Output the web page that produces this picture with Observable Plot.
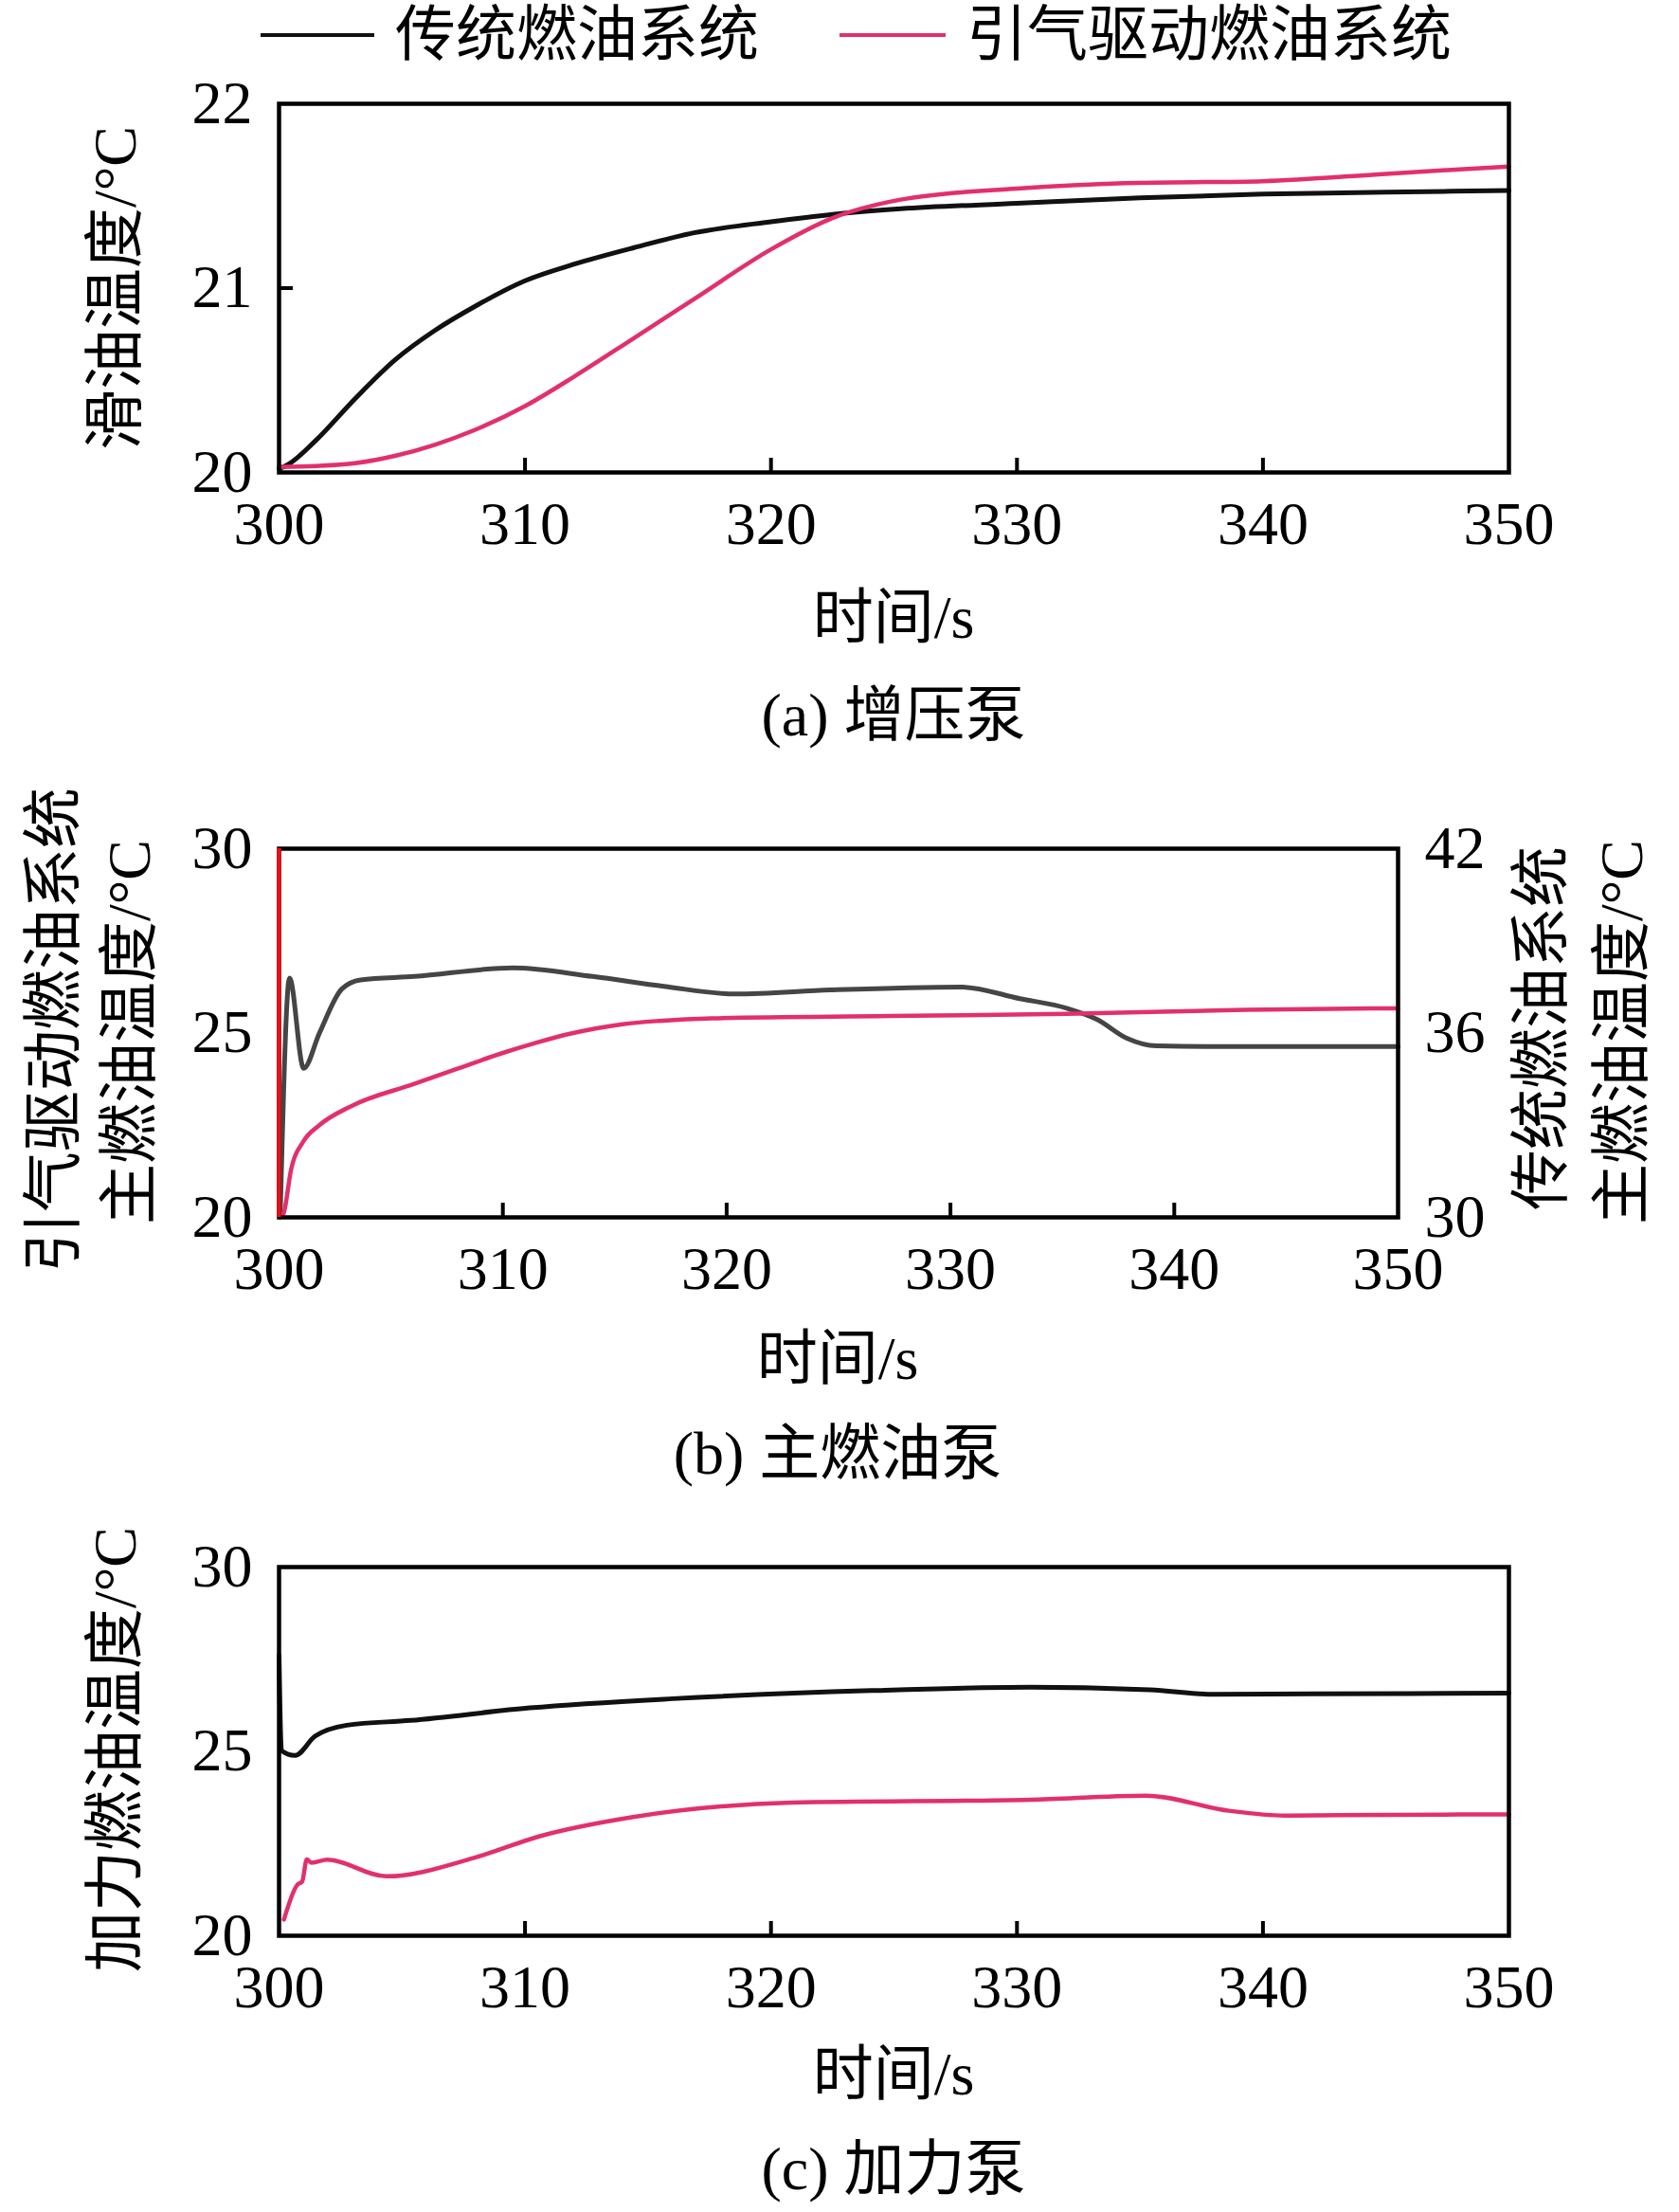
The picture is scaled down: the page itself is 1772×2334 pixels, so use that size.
<!DOCTYPE html>
<html><head><meta charset="utf-8">
<script src="https://cdn.jsdelivr.net/npm/d3@7"></script>
<script src="https://cdn.jsdelivr.net/npm/@observablehq/plot@0.6"></script>
<style>
body{margin:0;background:#fff;}
#page{position:relative;width:1772px;height:2334px;background:#fff;overflow:hidden;}
.t{position:absolute;white-space:nowrap;font-family:"Liberation Serif","Noto Sans CJK SC",serif;font-size:64px;line-height:1;color:#000;}
.c{transform:translate(-50%,-50%);}
.r{transform:translate(-50%,-50%) rotate(-90deg);}
.plot{position:absolute;left:0;}
.lg{position:absolute;height:4px;}
</style></head><body><div id="page"></div>
<script>
// ---------- data ----------
const xTicks = [300, 310, 320, 330, 340, 350];
const xInnerTicks = [310, 320, 330, 340];
const seriesNames = ["传统燃油系统", "引气驱动燃油系统"];

// (a) 增压泵
const aTicks = [20, 21, 22];
const aInnerTicks = [21];
const aConvTime = [300, 300.33, 301.47, 303.09, 304.71, 306.33, 307.95, 310, 312, 314.44, 316.87, 320, 322.5, 325.27, 330, 335, 340, 345, 350];
const aConvTemp = [20.02, 20.04, 20.17, 20.40, 20.61, 20.77, 20.90, 21.04, 21.13, 21.22, 21.30, 21.36, 21.40, 21.43, 21.46, 21.49, 21.51, 21.52, 21.53];
const aBleedTime = [300, 301.5, 303.09, 304.71, 306.33, 307.95, 310, 312, 314.44, 316.87, 320, 322.5, 325.27, 330, 334.4, 340, 345, 350];
const aBleedTemp = [20.03, 20.035, 20.05, 20.09, 20.15, 20.23, 20.36, 20.52, 20.73, 20.94, 21.21, 21.38, 21.48, 21.54, 21.57, 21.58, 21.62, 21.66];

// (b) 主燃油泵  (left axis: bleed-driven, right axis: conventional)
const bLeftTicks = [20, 25, 30];
const bRightTicks = [30, 36, 42];
const bConvTime = [300.05, 300.47, 301.1, 301.8, 302.8, 303.64, 306.04, 310.44, 314.02, 317.2, 320.39, 324.63, 330.46, 333.1, 335.23, 336.56, 337.88, 339.2, 342, 350];
const bConvTemp = [30.0, 37.79, 34.85, 35.99, 37.43, 37.73, 37.84, 38.12, 37.84, 37.52, 37.27, 37.40, 37.50, 37.12, 36.80, 36.44, 35.83, 35.58, 35.56, 35.56];
const bBleedTime = [300.05, 300.2, 300.54, 301.1, 301.8, 303.2, 306.04, 308, 310, 311.4, 313, 315.35, 317, 319.33, 327.28, 335.2, 343.2, 350];
const bBleedTemp = [20.0, 20.1, 21.3, 22.07, 22.5, 23.01, 23.62, 24.04, 24.46, 24.72, 24.98, 25.24, 25.33, 25.40, 25.46, 25.52, 25.63, 25.67];
const bMarkerTime = [300];

// (c) 加力泵
const cTicks = [20, 25, 30];
const cConvTime = [300, 300.1, 300.65, 301.46, 302.75, 305.34, 310.19, 316, 324.08, 330.55, 335.4, 337.98, 342, 350];
const cConvTemp = [27.6, 25.02, 24.89, 25.41, 25.71, 25.84, 26.18, 26.43, 26.65, 26.74, 26.67, 26.55, 26.56, 26.58];
const cBleedTime = [300.2, 300.74, 300.94, 301.13, 301.32, 301.96, 304.37, 307.92, 310.6, 314.39, 320.85, 330.55, 335.23, 338.62, 340.89, 345, 350];
const cBleedTemp = [20.44, 21.38, 21.47, 22.07, 21.98, 22.06, 21.61, 22.11, 22.7, 23.22, 23.61, 23.69, 23.80, 23.39, 23.26, 23.28, 23.29];

// ---------- styling ----------
const BLACK = "#111111", PINK = "#e2306b", GRAY = "#454545", RED = "#e8101a";
const page = document.getElementById("page");
const FRAME_H = 389, MT = 40, MB = 110, ML = 294;
const TICK_LEN = 15;
const X_DOMAIN = [300, 350];

const rows = (t, v) => t.map((x, i) => ({t: x, v: v[i]}));
// map right-axis (conventional) units into the left scale of panel b
const toLeft = r => bLeftTicks[0] + (r - bRightTicks[0]) / (bRightTicks[2] - bRightTicks[0]) * (bLeftTicks[2] - bLeftTicks[0]);

function makePanel(frameTop, frameRight, yDomain, yTicks, yInner, lineMarks, extra = []) {
  const frameW = frameRight - ML;
  // inward tick length expressed in data units of each scale
  const yTickSpan = (yDomain[1] - yDomain[0]) * TICK_LEN / FRAME_H;
  const xTickSpan = (X_DOMAIN[1] - X_DOMAIN[0]) * TICK_LEN / frameW;
  const svg = Plot.plot({
    width: 1772, height: FRAME_H + MT + MB,
    marginLeft: ML, marginRight: 1772 - frameRight, marginTop: MT, marginBottom: MB,
    style: {fontFamily: '"Liberation Serif","Times New Roman",serif', fontSize: "64px", background: "transparent", overflow: "visible", color: "#000"},
    x: {domain: X_DOMAIN},
    y: {domain: yDomain},
    marks: [
      ...lineMarks,
      Plot.ruleX(xInnerTicks, {x: d => d, y1: yDomain[0], y2: yDomain[0] + yTickSpan, stroke: "#000", strokeWidth: 4}),
      Plot.ruleY(yInner, {y: d => d, x1: X_DOMAIN[0], x2: X_DOMAIN[0] + xTickSpan, stroke: "#000", strokeWidth: 4}),
      Plot.frame({stroke: "#000", strokeWidth: 4.5}),
      Plot.axisX(xTicks, {anchor: "bottom", tickSize: 0, tickPadding: 30, label: null, fontSize: 64, tickFormat: d => String(d)}),
      Plot.axisY(yTicks, {anchor: "left", tickSize: 0, tickPadding: 28, label: null, fontSize: 64, tickFormat: d => String(d)}),
      ...extra
    ]
  });
  svg.classList.add("plot");
  svg.style.position = "absolute";
  svg.style.left = "0px";
  svg.style.top = (frameTop - MT) + "px";
  page.appendChild(svg);
}

function text(str, x, y, cls = "c") {
  const d = document.createElement("div");
  d.className = "t " + cls;
  d.textContent = str;
  d.style.left = x + "px";
  d.style.top = y + "px";
  page.appendChild(d);
}

// ---------- legend ----------
function legendLine(x, w, color) {
  const d = document.createElement("div");
  d.className = "lg";
  d.style.left = x + "px"; d.style.top = "35px"; d.style.width = w + "px"; d.style.background = color;
  page.appendChild(d);
}
legendLine(275, 120, BLACK);
legendLine(886, 112, PINK);
text(seriesNames[0], 417 + 192, 37);
text(seriesNames[1], 1020 + 256, 37);

// ---------- (a) ----------
makePanel(109, 1592, [20, 22], aTicks, aInnerTicks, [
  Plot.line(rows(aConvTime, aConvTemp), {x: "t", y: "v", stroke: BLACK, strokeWidth: 5, curve: "monotone-x"}),
  Plot.line(rows(aBleedTime, aBleedTemp), {x: "t", y: "v", stroke: PINK, strokeWidth: 4.5, curve: "monotone-x"})
]);
text("滑油温度/°C", 122, 304, "r");
text("时间/s", 943, 652);
text("(a) 增压泵", 943, 755);

// ---------- (b) ----------
const bRightPos = bRightTicks.map(toLeft);
makePanel(895, 1475, [20, 30], bLeftTicks, [], [
  Plot.line(bConvTime.map((t, i) => ({t, v: toLeft(bConvTemp[i])})), {x: "t", y: "v", stroke: GRAY, strokeWidth: 5, curve: "monotone-x"}),
  Plot.line(rows(bBleedTime, bBleedTemp), {x: "t", y: "v", stroke: PINK, strokeWidth: 4.5, curve: "monotone-x"})
], [
  Plot.ruleX(bMarkerTime, {stroke: RED, strokeWidth: 4.5}),
  Plot.axisY(bRightPos, {anchor: "right", tickSize: 0, tickPadding: 28, label: null, fontSize: 64,
    tickFormat: d => String(bRightTicks[bRightPos.indexOf(d)])})
]);
text("引气驱动燃油系统", 57, 1087, "r");
text("主燃油温度/°C", 137, 1089, "r");
text("传统燃油系统", 1627, 1085, "r");
text("主燃油温度/°C", 1712, 1089, "r");
text("时间/s", 884, 1434);
text("(b) 主燃油泵", 884, 1534);

// ---------- (c) ----------
makePanel(1653, 1592, [20, 30], cTicks, [], [
  Plot.line(rows(cConvTime, cConvTemp), {x: "t", y: "v", stroke: BLACK, strokeWidth: 5, curve: "monotone-x"}),
  Plot.line(rows(cBleedTime, cBleedTemp), {x: "t", y: "v", stroke: PINK, strokeWidth: 4.5, curve: "monotone-x"})
]);
text("加力燃油温度/°C", 122, 1846, "r");
text("时间/s", 943, 2189);
text("(c) 加力泵", 943, 2289);
</script></body></html>
